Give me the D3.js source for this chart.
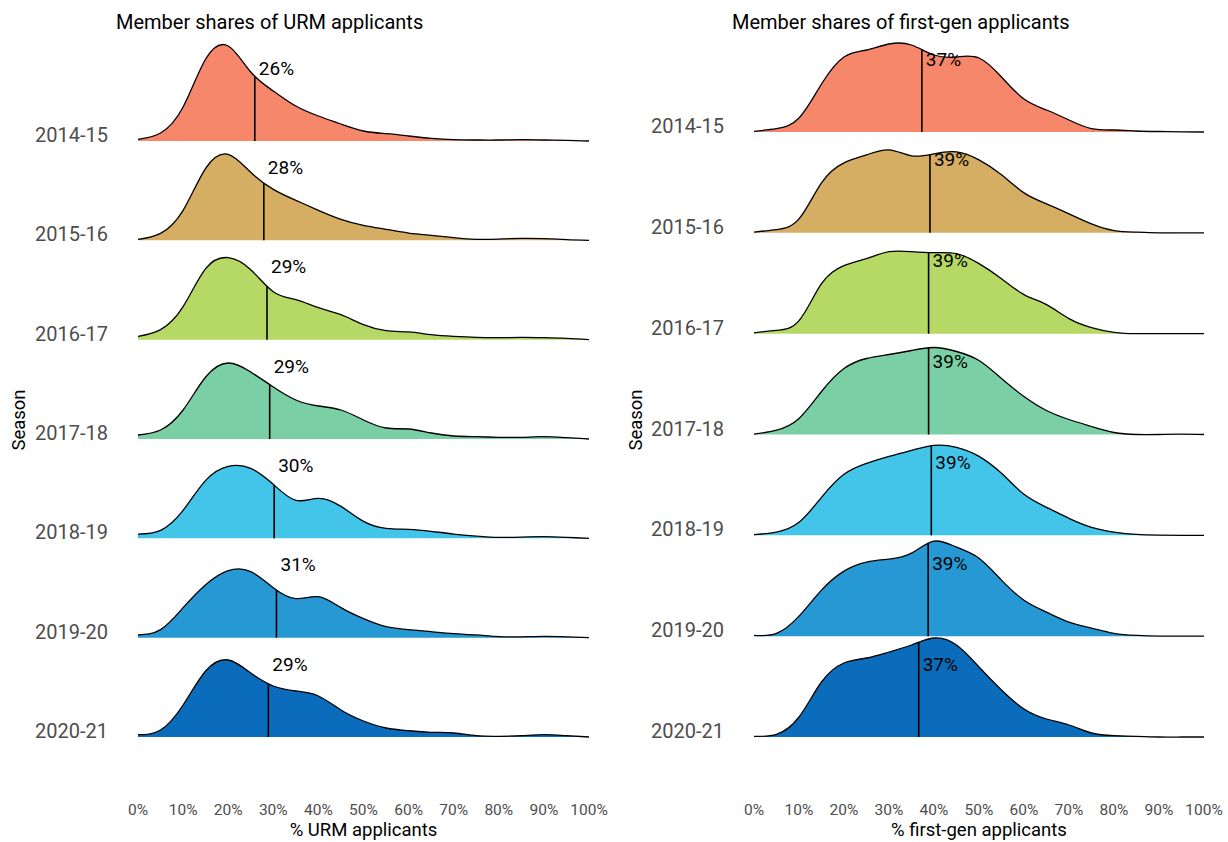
<!DOCTYPE html>
<meta charset="utf-8">
<title>Member shares ridgelines</title>
<style>

body {
  margin: 0;
  background: #fff;
  font-family: Roboto, "Noto Sans", sans-serif;
}

.ridge path.area {
  stroke: none;
}

.ridge path.top {
  fill: none;
  stroke: #000;
  stroke-width: 1.3px;
}

.ridge line.median {
  stroke: #000;
  stroke-width: 1.6px;
}

.tick-label {
  fill: #4d4d4d;
  font-size: 15.5px;
}

.row-label {
  fill: #4d4d4d;
  font-size: 20px;
}

.title {
  fill: #000;
  font-size: 20px;
}

.axis-title {
  fill: #000;
  font-size: 18.5px;
}

.pct {
  fill: #000;
  font-size: 19px;
}

</style>
<body>
<script src="https://d3js.org/d3.v7.min.js"></script>
<script>

var seasons = ["2014-15", "2015-16", "2016-17", "2017-18", "2018-19", "2019-20", "2020-21"];
var colors = ["#f7876b", "#d5ae63", "#b5d964", "#7bcfa4", "#42c5e9", "#2698d3", "#0b6cbc"];

// share of applicants (%) where each density was read
var gridPct = [0, 5, 10, 15, 20, 25, 30, 35, 40, 45, 50, 55, 60, 65, 70, 75, 80, 85, 90, 95, 100];
var xTicks = [0, 10, 20, 30, 40, 50, 60, 70, 80, 90, 100];

// relative density per season (URM)
var urm1415 = [1.7, 8, 34, 82, 95, 69, 50, 35, 25, 17, 10, 7.3, 5, 2.7, 1.3, 1, 1, 1.3, 1, 0.7, 0];
var urm1516 = [1, 7, 30, 72, 86, 68, 51, 40, 30, 21, 15, 11, 7.3, 5, 2.7, 1, 1.3, 2, 1.7, 0.7, 0];
var urm1617 = [3.3, 10, 33, 71, 82, 70, 48, 40, 32, 25, 15, 9, 7.7, 5, 3.3, 2.3, 2, 2.3, 2, 1.3, 0];
var urm1718 = [4, 9, 29, 62, 76, 67, 52, 39, 33, 29, 19, 11, 10, 6, 3, 2.3, 1.7, 1.7, 2.3, 1.3, 0];
var urm1819 = [4.3, 8, 28, 58, 72, 70, 54, 38, 40, 32, 17, 10, 9, 7, 4.3, 2.3, 1, 1.3, 1.7, 1, 0];
var urm1920 = [2.7, 8, 30, 53, 67, 66, 50, 39, 41, 30, 19, 11, 8, 6, 4, 2.7, 1, 0.8, 1.2, 0.8, 0];
var urm2021 = [2.3, 7, 32, 66, 77, 64, 51, 46, 41, 27, 16, 9, 6.3, 4.7, 4, 1.3, 0.7, 1.3, 2.3, 1.3, 0];
var urmMedians = [25.9, 27.9, 28.6, 29.2, 30.2, 30.7, 28.9];

// relative density per season (first-gen)
var fg1415 = [0.7, 3.3, 14, 48, 75, 82, 88, 87, 77, 75, 74, 55, 33, 22, 12, 3.3, 2, 1, 0.5, 0.2, 0];
var fg1516 = [0.7, 3.3, 14, 50, 70, 78, 83, 77, 79, 81, 73, 58, 40, 29, 19, 9, 2.3, 0.7, 0, 0, 0];
var fg1617 = [0.7, 3.3, 13, 50, 68, 75, 82, 82, 81, 80, 70, 55, 39, 29, 15, 6, 1.3, 0, 0, 0, 0];
var fg1718 = [0.3, 4.3, 16, 43, 66, 76, 80, 84, 87, 83, 74, 56, 38, 24, 15, 8, 2, 0, 0, 0.3, 0];
var fg1819 = [0.7, 3.3, 13, 38, 61, 72, 79, 85, 90, 88, 79, 62, 41, 28, 17, 8, 3.3, 1, 0.3, 0, 0];
var fg1920 = [0.7, 2.7, 20, 46, 65, 74, 77, 83, 95, 89, 78, 56, 36, 24, 14, 8, 2.7, 0.7, 0, 0, 0];
var fg2021 = [0.7, 2.7, 20, 55, 74, 79, 85, 92, 99, 92, 70, 47, 28, 18, 12, 4, 1.3, 0.7, 0, 0, 0];
var fgMedians = [37.3, 39.1, 38.8, 38.8, 39.4, 38.7, 36.6];

var width = 1228,
    height = 842;

var svg = d3.select("body").append("svg")
    .attr("width", width)
    .attr("height", height);

drawPanel({
  title: "Member shares of URM applicants",
  axisTitle: "% URM applicants",
  densities: [urm1415, urm1516, urm1617, urm1718, urm1819, urm1920, urm2021],
  medians: urmMedians,
  x0: 138, x1: 589,
  y0: 141, y1: 737,
  titleX: 116,
  seasonX: 25
});

drawPanel({
  title: "Member shares of first-gen applicants",
  axisTitle: "% first-gen applicants",
  densities: [fg1415, fg1516, fg1617, fg1718, fg1819, fg1920, fg2021],
  medians: fgMedians,
  x0: 754, x1: 1204,
  y0: 132, y1: 737,
  titleX: 732,
  seasonX: 642
});

function drawPanel(p) {
  var x = d3.scaleLinear().domain([0, 100]).range([p.x0, p.x1]);
  var y = d3.scalePoint().domain(seasons).range([p.y0, p.y1]);
  var h = d3.scaleLinear().domain([0, 100]).range([0, 100]);

  var g = svg.append("g");

  seasons.forEach(function(s, i) {
    var base = y(s);
    var pts = gridPct.map(function(v, j) { return [v, p.densities[i][j]]; });

    var area = d3.area()
        .curve(d3.curveNatural)
        .x(function(d) { return x(d[0]); })
        .y0(base)
        .y1(function(d) { return base - h(Math.max(0, d[1])); });
    var line = area.lineY1();

    var r = g.append("g").attr("class", "ridge");
    r.append("path").attr("class", "area")
        .attr("d", area(pts))
        .attr("fill", colors[i]);
    var top = r.append("path").attr("class", "top")
        .attr("d", line(pts));

    var mx = x(p.medians[i]);
    r.append("line").attr("class", "median")
        .attr("x1", mx).attr("x2", mx)
        .attr("y1", base).attr("y2", yAtX(top.node(), mx));

    g.append("text").attr("class", "pct")
        .attr("x", mx + 4)
        .attr("y", base - 73)
        .attr("dy", "0.35em")
        .text(Math.round(p.medians[i]) + "%");

    g.append("text").attr("class", "row-label")
        .attr("x", p.x0 - 30)
        .attr("y", base + 1)
        .attr("text-anchor", "end")
        .text(s);
  });

  g.selectAll(".tick-label")
      .data(xTicks)
    .enter().append("text")
      .attr("class", "tick-label")
      .attr("x", function(d) { return x(d); })
      .attr("y", 815)
      .attr("text-anchor", "middle")
      .text(function(d) { return d + "%"; });

  g.append("text").attr("class", "axis-title")
      .attr("x", (p.x0 + p.x1) / 2)
      .attr("y", 836)
      .attr("text-anchor", "middle")
      .text(p.axisTitle);

  g.append("text").attr("class", "title")
      .attr("x", p.titleX)
      .attr("y", 29)
      .text(p.title);

  g.append("text").attr("class", "axis-title")
      .attr("transform", "translate(" + p.seasonX + ",420)rotate(-90)")
      .attr("text-anchor", "middle")
      .text("Season");
}

// find the curve's y at a given x by walking along the path
function yAtX(node, tx) {
  var lo = 0, hi = node.getTotalLength(), pt;
  for (var k = 0; k < 30; k++) {
    var mid = (lo + hi) / 2;
    pt = node.getPointAtLength(mid);
    if (pt.x < tx) lo = mid; else hi = mid;
  }
  return pt.y;
}

</script>
</body>
</html>
